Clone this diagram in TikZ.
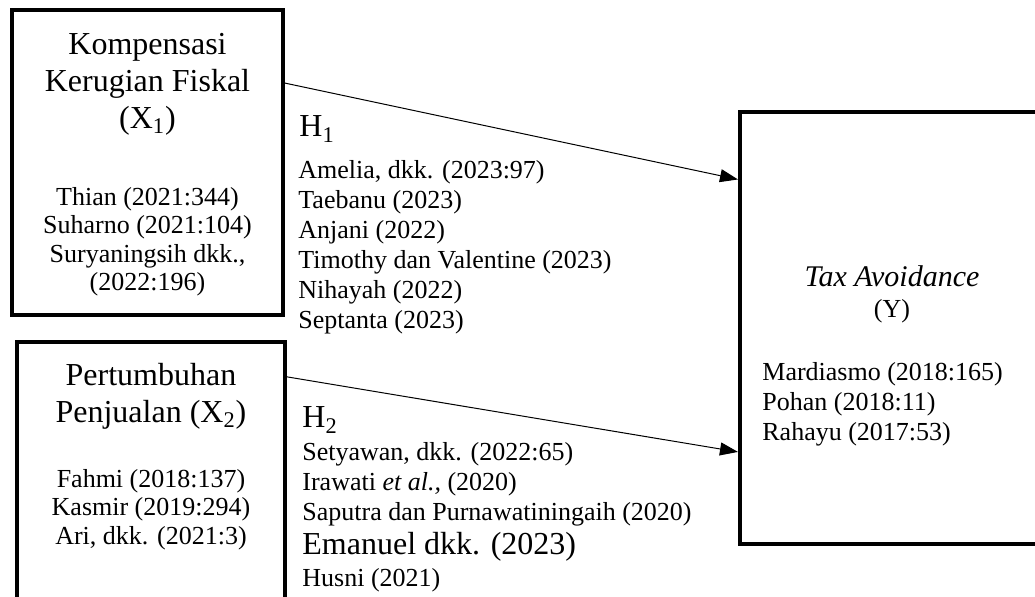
\documentclass[tikz,border=0pt]{standalone}
\usepackage{fontspec}
\setmainfont{Liberation Serif}
\usetikzlibrary{arrows.meta}

\begin{document}
\begin{tikzpicture}[x=0.5pt, y=-0.5pt, kotak/.style={draw, line width=2pt, inner sep=0pt},judul/.style={font=\fontsize{16}{18.4}\selectfont, align=center, inner sep=0pt, anchor=north},rujukan/.style={font=\fontsize{13}{15}\selectfont, align=left, inner sep=0pt, anchor=north west},rujukanc/.style={font=\fontsize{13}{14.2}\selectfont, align=center, inner sep=0pt, anchor=north},panah/.style={-{Triangle[length=9pt, width=6.5pt]}, line width=0.5pt}]
  \useasboundingbox (0,0) rectangle (1035,597);
  \clip (0,0) rectangle (1035,597);

  \node[kotak, minimum width=135.5pt, minimum height=152.5pt] (x1) at (147.5,162.5) {};
  \node[kotak, minimum width=134pt, minimum height=149pt] (x2) at (151,491) {};
  \node[kotak, minimum width=175pt, minimum height=216pt] (y) at (915,328) {};

  \node[judul] (x1judul) at (147.5,33) {Kompensasi\\Kerugian Fiskal\\(X\textsubscript{1})};
  \node[rujukanc] (x1ref) at (147.5,187) {Thian (2021:344)\\Suharno (2021:104)\\Suryaningsih dkk.,\\(2022:196)};

  \node[judul] (x2judul) at (151,363) {Pertumbuhan\\Penjualan (X\textsubscript{2})};
  \node[rujukanc] (x2ref) at (151,469) {Fahmi (2018:137)\\Kasmir (2019:294)\\Ari, dkk. (2021:3)};

  \node[font=\fontsize{15}{16}\selectfont\itshape, anchor=base, inner sep=0pt] (yjudul) at (892,287) {Tax Avoidance};
  \node[font=\fontsize{13}{15}\selectfont, anchor=base, inner sep=0pt] (ylabel) at (892,318) {(Y)};
  \node[rujukan] (yref) at (762,362) {Mardiasmo (2018:165)\\Pohan (2018:11)\\Rahayu (2017:53)};

  \draw[panah] (x1.30) -- (y.140);
  \draw[panah] (x2.40) -- (y.215);

  \node[font=\fontsize{16}{18}\selectfont, anchor=base west, inner sep=0pt] (h1) at (299,137) {H\textsubscript{1}};
  \node[rujukan] (h1ref) at (298,160) {Amelia, dkk. (2023:97)\\Taebanu (2023)\\Anjani (2022)\\Timothy dan Valentine (2023)\\Nihayah (2022)\\Septanta (2023)};

  \node[font=\fontsize{16}{18}\selectfont, anchor=base west, inner sep=0pt] (h2) at (302,428) {H\textsubscript{2}};
  \node[rujukan] (h2ref) at (302,442) {Setyawan, dkk. (2022:65)\\Irawati \textit{et al.,} (2020)\\Saputra dan Purnawatiningaih (2020)};
  \node[font=\fontsize{16}{18}\selectfont, anchor=base west, inner sep=0pt] (emanuel) at (302,555) {Emanuel dkk. (2023)};
  \node[font=\fontsize{13}{15}\selectfont, anchor=base west, inner sep=0pt] (husni) at (302,587) {Husni (2021)};
\end{tikzpicture}
\end{document}
